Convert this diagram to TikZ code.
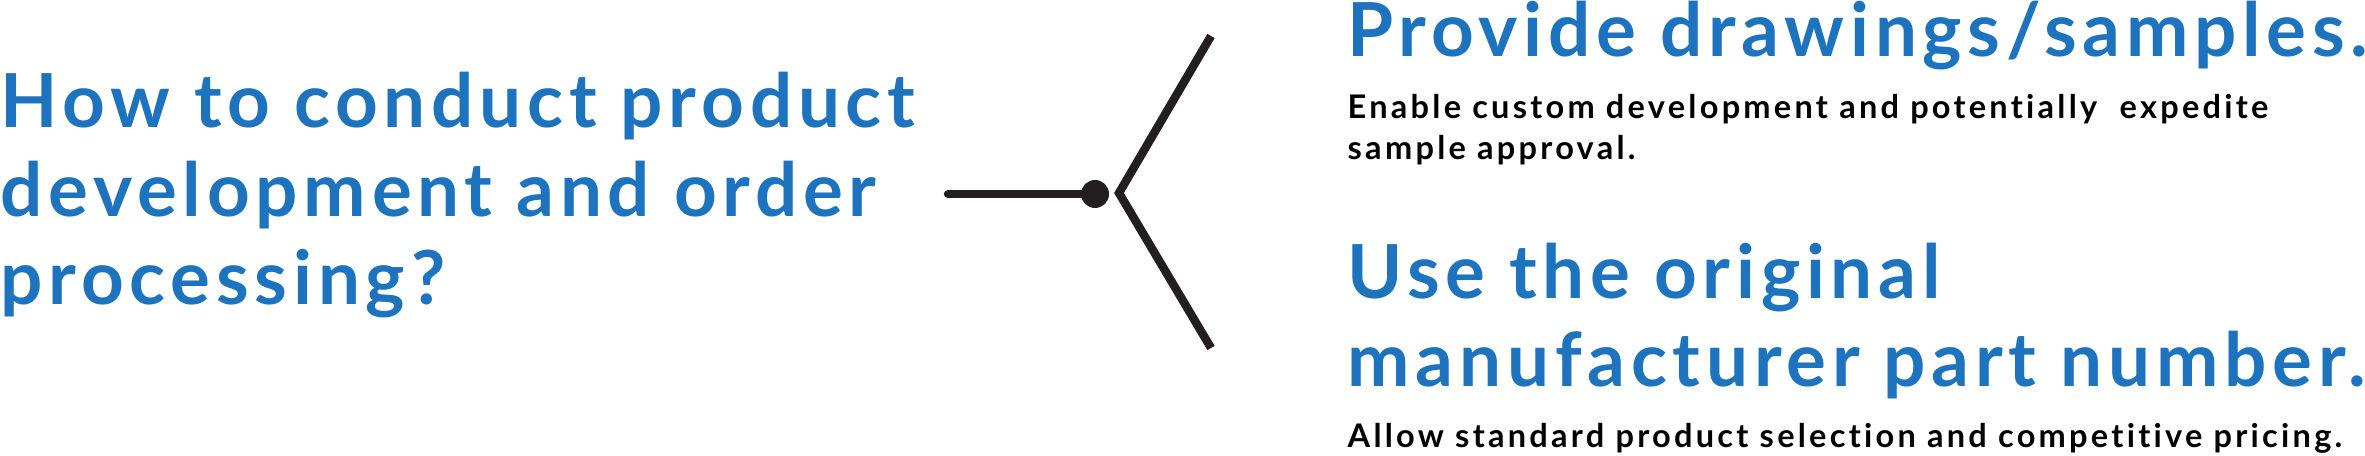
\documentclass[tikz,border=0pt]{standalone}
\usepackage{xcolor}
\usepackage{fontspec}
\setmainfont{Lato}
\newfontfamily\headfont{Lato}[LetterSpace=7.7, Ligatures=NoCommon]
\newfontfamily\notefont{Lato}[LetterSpace=10, Ligatures=NoCommon]
\usepackage{tikz}
\usetikzlibrary{positioning, calc}
\definecolor{headblue}{RGB}{30, 115, 190}
\definecolor{forkdark}{RGB}{35, 31, 32}

\tikzset{
    headtext/.style={anchor=base west, inner sep=0pt, align=left, text=headblue,
        font=\headfont\fontsize{21.2}{25.3}\selectfont\bfseries},
    notetext/.style={anchor=base west, inner sep=0pt, align=left, text=black,
        font=\notefont\fontsize{9.25}{11.9}\selectfont\bfseries},
    forkline/.style={draw=forkdark, line width=2.4pt},
}

\begin{document}
\begin{tikzpicture}[x=0.01cm, y=-0.01cm]
    \useasboundingbox (0,0) rectangle (2365,456);
    % question on the left (base = last line)
    \node[headtext] (question) at (0,305) {How to conduct product\\development and order\\processing?};
    % connector with dot and fork
    \coordinate (stem) at (948,194);
    \node[circle, fill=forkdark, minimum size=0.28cm, inner sep=0pt] (joint) at (1095,194) {};
    \coordinate (fork) at (1119,193);
    \coordinate (upper) at (1211,36);
    \coordinate (lower) at (1211,348);
    \draw[forkline, line cap=round] (stem) -- (joint.center);
    \draw[forkline] (upper) -- (fork) -- (lower);
    % the two answers
    \node[headtext] (drawings) at (1347,57) {Provide drawings/samples.};
    \node[notetext] (drawingsnote) at (1347,160) {Enable custom development and potentially\ \ expedite\\sample approval.};
    \node[headtext] (partno) at (1347,387) {Use the original\\manufacturer part number.};
    \node[notetext] (partnonote) at (1347,448) {Allow standard product selection and competitive pricing.};
\end{tikzpicture}
\end{document}
